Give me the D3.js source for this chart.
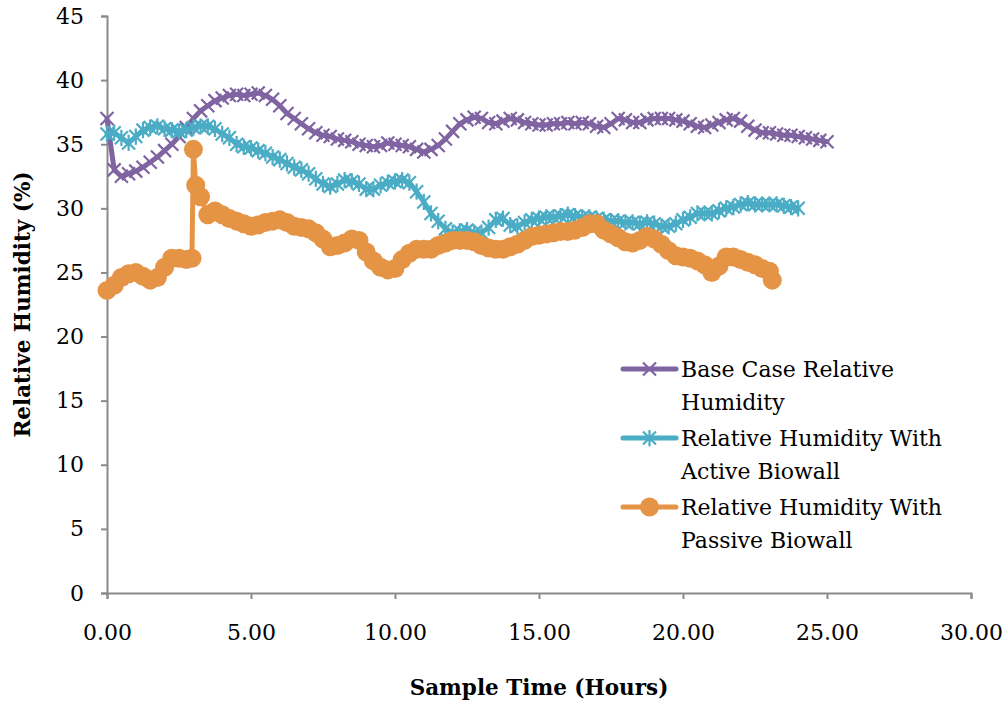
<!DOCTYPE html>
<html>
<head>
<meta charset="utf-8">
<script src="https://cdn.jsdelivr.net/npm/d3@7"></script>
<style>
  html, body { margin: 0; padding: 0; background: #fff; }
  svg { display: block; }
  text { font-family: "DejaVu Serif", "Liberation Serif", serif; fill: #000; }
</style>
</head>
<body>
<svg id="chart" width="1008" height="704"></svg>
<script>
// Logged relative humidity, sampled every quarter hour
const baseHours = d3.range(0, 25.001, 0.25);
const baseValues = [
  37.0, 33.0, 32.5, 32.7, 32.9, 33.2, 33.6, 34.0, 34.5, 35.0, 35.6, 36.3,
  37.0, 37.6, 38.0, 38.4, 38.6, 38.8, 38.9, 38.8, 38.9, 39.0, 38.8, 38.5,
  38.0, 37.4, 37.0, 36.6, 36.2, 35.9, 35.7, 35.6, 35.4, 35.3, 35.2, 35.0,
  34.9, 34.8, 34.9, 35.1, 35.0, 34.9, 34.8, 34.6, 34.4, 34.6, 34.9, 35.4,
  36.0, 36.6, 36.9, 37.1, 37.0, 36.7, 36.6, 36.8, 37.0, 36.9, 36.7, 36.6,
  36.5, 36.5, 36.6, 36.6, 36.7, 36.6, 36.7, 36.6, 36.4, 36.3, 36.6, 37.0,
  36.9, 36.7, 36.7, 36.9, 37.0, 37.0, 37.0, 36.9, 36.8, 36.6, 36.4, 36.3,
  36.5, 36.7, 36.9, 37.0, 36.8, 36.4, 36.1, 35.9, 35.9, 35.8, 35.7, 35.7,
  35.6, 35.5, 35.4, 35.3, 35.2
];

const activeHours = d3.range(0, 24.001, 0.25);
const activeValues = [
  35.8, 35.9, 35.5, 35.1, 35.6, 36.1, 36.3, 36.4, 36.2, 36.1, 36.0, 36.1,
  36.3, 36.4, 36.4, 36.2, 35.8, 35.5, 35.0, 34.8, 34.7, 34.5, 34.3, 34.0,
  33.8, 33.5, 33.2, 33.0, 32.7, 32.3, 31.9, 31.7, 31.9, 32.2, 32.1, 31.9,
  31.5, 31.5, 31.8, 32.0, 32.1, 32.2, 32.0, 31.3, 30.5, 29.6, 29.0, 28.4,
  28.1, 28.2, 28.3, 28.1, 28.1, 28.5, 29.1, 29.2, 28.7, 28.6, 28.9, 29.1,
  29.2, 29.3, 29.3, 29.4, 29.5, 29.4, 29.3, 29.3, 29.2, 29.1, 29.0, 29.0,
  28.9, 28.9, 28.8, 28.9, 28.8, 28.6, 28.6, 28.8, 29.1, 29.3, 29.6, 29.6,
  29.6, 29.8, 30.0, 30.1, 30.3, 30.4, 30.3, 30.3, 30.3, 30.3, 30.2, 30.1,
  30.0
];

const passiveHours = [
  0, 0.25, 0.5, 0.75, 1, 1.25, 1.5, 1.75, 2, 2.25, 2.5, 2.75, 2.95, 3.0, 3.08,
  3.25, 3.5, 3.75, 4, 4.25, 4.5, 4.75, 5, 5.25, 5.5, 5.75, 6, 6.25, 6.5, 6.75,
  7, 7.25, 7.5, 7.75, 8, 8.25, 8.5, 8.75, 9, 9.25, 9.5, 9.75, 10, 10.25, 10.5,
  10.75, 11, 11.25, 11.5, 11.75, 12, 12.25, 12.5, 12.75, 13, 13.25, 13.5, 13.75,
  14, 14.25, 14.5, 14.75, 15, 15.25, 15.5, 15.75, 16, 16.25, 16.5, 16.75, 17,
  17.25, 17.5, 17.75, 18, 18.25, 18.5, 18.75, 19, 19.25, 19.5, 19.75, 20, 20.25,
  20.5, 20.75, 21, 21.25, 21.5, 21.75, 22, 22.25, 22.5, 22.75, 23, 23.1
];
const passiveValues = [
  23.6, 24.0, 24.6, 24.9, 25.0, 24.7, 24.4, 24.6, 25.4, 26.1, 26.1, 26.0, 26.1,
  34.6, 31.8, 30.9, 29.5, 29.8, 29.5, 29.2, 29.0, 28.8, 28.6, 28.7, 28.9, 29.0,
  29.1, 28.9, 28.6, 28.5, 28.4, 28.1, 27.6, 27.0, 27.1, 27.3, 27.6, 27.5, 26.6,
  25.9, 25.4, 25.2, 25.3, 26.0, 26.5, 26.8, 26.8, 26.8, 27.1, 27.3, 27.5, 27.5,
  27.5, 27.4, 27.1, 26.9, 26.8, 26.8, 27.0, 27.2, 27.5, 27.8, 27.9, 28.0, 28.1,
  28.2, 28.2, 28.3, 28.5, 28.8, 28.8, 28.3, 28.0, 27.7, 27.4, 27.3, 27.5, 27.8,
  27.6, 27.2, 26.7, 26.3, 26.2, 26.1, 25.9, 25.6, 25.0, 25.5, 26.2, 26.2, 26.0,
  25.8, 25.6, 25.3, 25.1, 24.4
];

const seriesNames = [
  ["Base Case Relative", "Humidity"],
  ["Relative Humidity With", "Active Biowall"],
  ["Relative Humidity With", "Passive Biowall"]
];
const xTicks = [0, 5, 10, 15, 20, 25, 30];
const yTicks = [0, 5, 10, 15, 20, 25, 30, 35, 40, 45];
const xTitle = "Sample Time (Hours)";
const yTitle = "Relative Humidity (%)";

const colors = ["#8064A2", "#4AACC5", "#E59446"];
const axisColor = "#8A8A8A";

const svg = d3.select("#chart");
const plot = { left: 107, right: 971, top: 16, bottom: 593 };

const x = d3.scaleLinear().domain([0, 30]).range([plot.left, plot.right]);
const y = d3.scaleLinear().domain([0, 45]).range([plot.bottom, plot.top]);

// Axes
const xAxis = svg.append("g")
  .attr("transform", `translate(0,${plot.bottom})`)
  .call(d3.axisBottom(x).tickValues(xTicks).tickSize(6)
    .tickFormat(d3.format(".2f")));
const yAxis = svg.append("g")
  .attr("transform", `translate(${plot.left},0)`)
  .call(d3.axisLeft(y).tickValues(yTicks).tickSize(6).tickPadding(17)
    .tickFormat(d3.format("d")));

[xAxis, yAxis].forEach(g => {
  g.select(".domain").attr("stroke", axisColor).attr("stroke-width", 2);
  g.selectAll(".tick line").attr("stroke", axisColor).attr("stroke-width", 2);
  g.selectAll(".tick text")
    .attr("fill", "#000")
    .style("font-family", '"DejaVu Serif", serif')
    .style("font-size", "22px");
});
xAxis.selectAll(".tick text").attr("dy", "0.32em").attr("y", 40);

// Axis titles
svg.append("text")
  .attr("x", (plot.left + plot.right) / 2)
  .attr("y", 687)
  .attr("text-anchor", "middle")
  .attr("dominant-baseline", "central")
  .style("font-weight", "bold")
  .style("font-size", "21.5px")
  .text(xTitle);
svg.append("text")
  .attr("transform", `translate(22,${(plot.top + plot.bottom) / 2}) rotate(-90)`)
  .attr("text-anchor", "middle")
  .attr("dominant-baseline", "central")
  .style("font-weight", "bold")
  .style("font-size", "21.5px")
  .text(yTitle);

// Marker shapes
function crossPath(s) {
  return `M${-s},${-s}L${s},${s}M${-s},${s}L${s},${-s}`;
}
function starPath(s) {
  return crossPath(s) + `M0,${-s * 1.25}L0,${s * 1.25}`;
}

const series = [
  { hours: baseHours, values: baseValues, marker: "cross" },
  { hours: activeHours, values: activeValues, marker: "star" },
  { hours: passiveHours, values: passiveValues, marker: "circle" }
];

const line = d3.line().x(d => x(d[0])).y(d => y(d[1]));

series.forEach((s, i) => {
  const pts = s.hours.map((h, k) => [h, s.values[k]]);
  const g = svg.append("g");
  g.append("path")
    .datum(pts)
    .attr("d", line)
    .attr("fill", "none")
    .attr("stroke", colors[i])
    .attr("stroke-width", 5)
    .attr("stroke-linejoin", "round")
    .attr("stroke-linecap", "round");
  if (s.marker === "circle") {
    g.selectAll("circle").data(pts).join("circle")
      .attr("cx", d => x(d[0])).attr("cy", d => y(d[1]))
      .attr("r", 9.5).attr("fill", colors[i]);
  } else {
    const shape = s.marker === "cross" ? crossPath(6.5) : starPath(6.5);
    g.selectAll("path.mk").data(pts).join("path")
      .attr("class", "mk")
      .attr("transform", d => `translate(${x(d[0])},${y(d[1])})`)
      .attr("d", shape)
      .attr("fill", "none")
      .attr("stroke", colors[i])
      .attr("stroke-width", 2.2);
  }
});

// Legend
const legend = svg.append("g");
const legendTop = 369, legendStep = 69, lineGap = 33;
seriesNames.forEach((lines, i) => {
  const cy = legendTop + i * legendStep;
  const g = legend.append("g");
  g.append("line")
    .attr("x1", 623).attr("x2", 676).attr("y1", cy).attr("y2", cy)
    .attr("stroke", colors[i]).attr("stroke-width", 5)
    .attr("stroke-linecap", "round");
  if (series[i].marker === "circle") {
    g.append("circle").attr("cx", 649.5).attr("cy", cy).attr("r", 9.5)
      .attr("fill", colors[i]);
  } else {
    g.append("path")
      .attr("transform", `translate(649.5,${cy})`)
      .attr("d", series[i].marker === "cross" ? crossPath(6.5) : starPath(6.5))
      .attr("fill", "none").attr("stroke", colors[i]).attr("stroke-width", 2.2);
  }
  lines.forEach((t, k) => {
    g.append("text")
      .attr("x", 681).attr("y", cy + k * lineGap)
      .attr("dominant-baseline", "central")
      .style("font-size", "22px")
      .text(t);
  });
});
</script>
</body>
</html>
